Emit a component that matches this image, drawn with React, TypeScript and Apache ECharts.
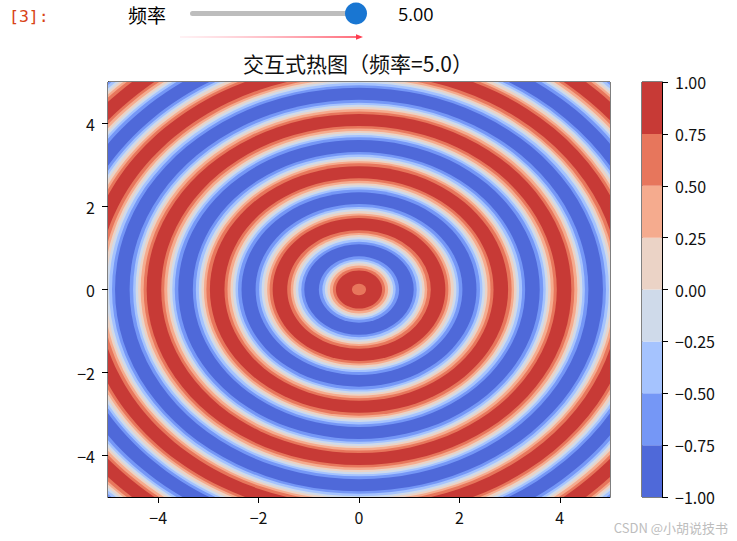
import React, { useEffect, useRef } from "react";
import * as echarts from "echarts";

// ---- data ----
// colour-band boundaries of the filled contour (colourbar levels)
const LEVELS = [-1, -0.75, -0.5, -0.25, 0, 0.25, 0.5, 0.75, 1];
// colour for each band between consecutive LEVELS (coolwarm)
const LEVEL_COLORS = [
  "#4f69d9", "#7597f6", "#a5c3fe", "#cfdaea",
  "#ebd3c6", "#f5ab8e", "#e7765c", "#c73a36",
];
// concentric rings: outer radius (data units) of each band, from the centre outwards
const RING_OUTER_R = [
  0.14, 0.46, 0.52, 0.58, 0.63, 0.68, 0.73, 0.80, 1.09, 1.15, 1.21, 1.26,
  1.31, 1.36, 1.43, 1.72, 1.78, 1.83, 1.89, 1.94, 1.99, 2.06, 2.34, 2.41, 2.46, 2.51,
  2.56, 2.62, 2.68, 2.97, 3.04, 3.09, 3.14, 3.19, 3.25, 3.31, 3.60, 3.67, 3.72, 3.77,
  3.82, 3.88, 3.94, 4.23, 4.29, 4.35, 4.40, 4.45, 4.50, 4.57, 4.86, 4.92, 4.98, 5.03,
  5.08, 5.13, 5.20, 5.49, 5.55, 5.60, 5.66, 5.71, 5.76, 5.82, 6.11, 6.18, 6.23, 6.28,
  6.33, 6.39, 6.45, 6.74, 6.81, 6.86, 6.91, 6.96, 7.02, 7.08, 7.30,
];
// colour band index (0 = −1…−0.75, 7 = 0.75…1) of each ring
const RING_LEVEL = [
  6, 7, 6, 5, 4, 3, 2, 1, 0, 1, 2, 3,
  4, 5, 6, 7, 6, 5, 4, 3, 2, 1, 0, 1, 2, 3,
  4, 5, 6, 7, 6, 5, 4, 3, 2, 1, 0, 1, 2, 3,
  4, 5, 6, 7, 6, 5, 4, 3, 2, 1, 0, 1, 2, 3,
  4, 5, 6, 7, 6, 5, 4, 3, 2, 1, 0, 1, 2, 3,
  4, 5, 6, 7, 6, 5, 4, 3, 2, 1, 0,
];
const X_TICKS = [-4, -2, 0, 2, 4];
const Y_TICKS = [-4, -2, 0, 2, 4];
const TITLE = "交互式热图（频率=5.0）";
const SLIDER_LABEL = "频率";
const SLIDER_VALUE = "5.00";
const PROMPT = "[3]:";
const WATERMARK = "CSDN @小胡说技书";

const FONT = "'Noto Sans CJK SC', 'Noto Sans', sans-serif";
const minus = (s: string) => s.replace("-", "\u2212");

export default function App() {
  const ref = useRef<HTMLDivElement>(null);
  useEffect(() => {
    if (!ref.current) return;
    document.body.style.margin = "0";
    const chart = echarts.init(ref.current, null, { renderer: "svg" });

    // rings drawn from the largest to the smallest so inner bands sit on top
    const ringData = RING_OUTER_R.map((r, i) => [r, RING_LEVEL[i]]).reverse();
    const barData = LEVEL_COLORS.map((_, i) => [LEVELS[i], LEVELS[i + 1], i]);

    const tickLabel = {
      fontFamily: FONT,
      fontSize: 16,
      color: "#111",
    };

    const option: any = {
      animation: false,
      backgroundColor: "#ffffff",
      grid: [
        {
          left: 108, top: 82, width: 502, height: 415,
          show: true, borderColor: "#000", borderWidth: 1,
          backgroundColor: "transparent", containLabel: false, outerBoundsMode: "none",
        },
        {
          left: 642, top: 82, width: 20, height: 415,
          show: true, borderColor: "#000", borderWidth: 1,
          backgroundColor: "transparent", containLabel: false, outerBoundsMode: "none",
        },
      ],
      xAxis: [
        {
          gridIndex: 0, type: "value", min: -5, max: 5,
          axisLine: { show: true, onZero: false, lineStyle: { color: "#000", width: 1 } },
          axisTick: { show: true, customValues: X_TICKS, length: 6, lineStyle: { color: "#000" } },
          axisLabel: { ...tickLabel, customValues: X_TICKS, margin: 12, formatter: (v: number) => minus(String(v)) },
          splitLine: { show: false },
        },
        { gridIndex: 1, type: "value", min: 0, max: 1, show: false },
      ],
      yAxis: [
        {
          gridIndex: 0, type: "value", min: -5, max: 5,
          axisLine: { show: true, onZero: false, lineStyle: { color: "#000", width: 1 } },
          axisTick: { show: true, customValues: Y_TICKS, length: 6, lineStyle: { color: "#000" } },
          axisLabel: { ...tickLabel, customValues: Y_TICKS, margin: 13, formatter: (v: number) => minus(String(v)) },
          splitLine: { show: false },
        },
        {
          gridIndex: 1, type: "value", min: -1, max: 1, interval: 0.25, position: "right",
          axisLine: { show: true, onZero: false, lineStyle: { color: "#000", width: 1 } },
          axisTick: { show: true, length: 6, lineStyle: { color: "#000" } },
          axisLabel: { ...tickLabel, margin: 13, formatter: (v: number) => minus(v.toFixed(2)) },
          splitLine: { show: false },
        },
      ],
      series: [
        {
          type: "custom",
          xAxisIndex: 0,
          yAxisIndex: 0,
          silent: true,
          clip: true,
          data: ringData,
          renderItem: (params: any, api: any) => {
            const r = api.value(0);
            const lvl = api.value(1);
            const c = api.coord([0, 0]);
            const s = api.size([r, r]);
            const cs = params.coordSys;
            return {
              type: "group",
              clipPath: { type: "rect", shape: { x: cs.x, y: cs.y, width: cs.width, height: cs.height } },
              children: [
                {
                  type: "circle",
                  x: c[0],
                  y: c[1],
                  scaleY: s[1] / s[0],
                  shape: { cx: 0, cy: 0, r: s[0] },
                  style: { fill: LEVEL_COLORS[lvl], stroke: null },
                },
              ],
            };
          },
        },
        {
          type: "custom",
          xAxisIndex: 1,
          yAxisIndex: 1,
          silent: true,
          data: barData,
          renderItem: (_params: any, api: any) => {
            const p0 = api.coord([0, api.value(0)]);
            const p1 = api.coord([1, api.value(1)]);
            return {
              type: "rect",
              shape: { x: p0[0], y: p1[1], width: p1[0] - p0[0], height: p0[1] - p1[1] },
              style: { fill: LEVEL_COLORS[api.value(2)], stroke: null },
            };
          },
        },
      ],
      graphic: [
        {
          type: "text", x: 9, y: 16,
          style: {
            text: PROMPT, fontSize: 16.5, fontFamily: "'DejaVu Sans Mono', monospace", fill: "#d84315",
            align: "left", verticalAlign: "middle", textAlign: "left", textVerticalAlign: "middle",
          },
        },
        {
          type: "text", x: 128, y: 14,
          style: {
            text: SLIDER_LABEL, fontSize: 19, fontFamily: FONT, fill: "#000",
            align: "left", verticalAlign: "middle", textAlign: "left", textVerticalAlign: "middle",
          },
        },
        {
          type: "rect",
          shape: { x: 190, y: 11, width: 166, height: 5, r: 2.5 },
          style: { fill: "#bdbdbd" },
        },
        {
          type: "circle",
          shape: { cx: 356, cy: 13.5, r: 11 },
          style: { fill: "#1976d2" },
        },
        {
          type: "text", x: 398, y: 14,
          style: {
            text: SLIDER_VALUE, fontSize: 18, fontFamily: "'Open Sans', 'Noto Sans', sans-serif", fill: "#000",
            align: "left", verticalAlign: "middle", textAlign: "left", textVerticalAlign: "middle",
          },
        },
        {
          type: "rect",
          shape: { x: 180, y: 36.2, width: 178, height: 1.6 },
          style: {
            fill: new echarts.graphic.LinearGradient(0, 0, 1, 0, [
              { offset: 0, color: "rgba(255,140,160,0.15)" },
              { offset: 1, color: "#ff3b4e" },
            ]),
          },
        },
        {
          type: "polygon",
          shape: { points: [[356, 34.3], [363, 37], [356, 39.7]] },
          style: { fill: "#ff3b4e" },
        },
        {
          type: "text", x: 358, y: 63,
          style: {
            text: TITLE, fontSize: 21, fontFamily: FONT, fill: "#111",
            align: "center", verticalAlign: "middle", textAlign: "center", textVerticalAlign: "middle",
          },
        },
        {
          type: "text", x: 728, y: 527,
          style: {
            text: WATERMARK, fontSize: 13, fontFamily: FONT, fill: "#bdbdbd",
            align: "right", verticalAlign: "middle", textAlign: "right", textVerticalAlign: "middle",
          },
        },
      ],
    };

    chart.setOption(option);
    return () => chart.dispose();
  }, []);

  return (
    <div
      ref={ref}
      style={{ position: "fixed", left: 0, top: 0, width: 737, height: 541, background: "#fff" }}
    />
  );
}
